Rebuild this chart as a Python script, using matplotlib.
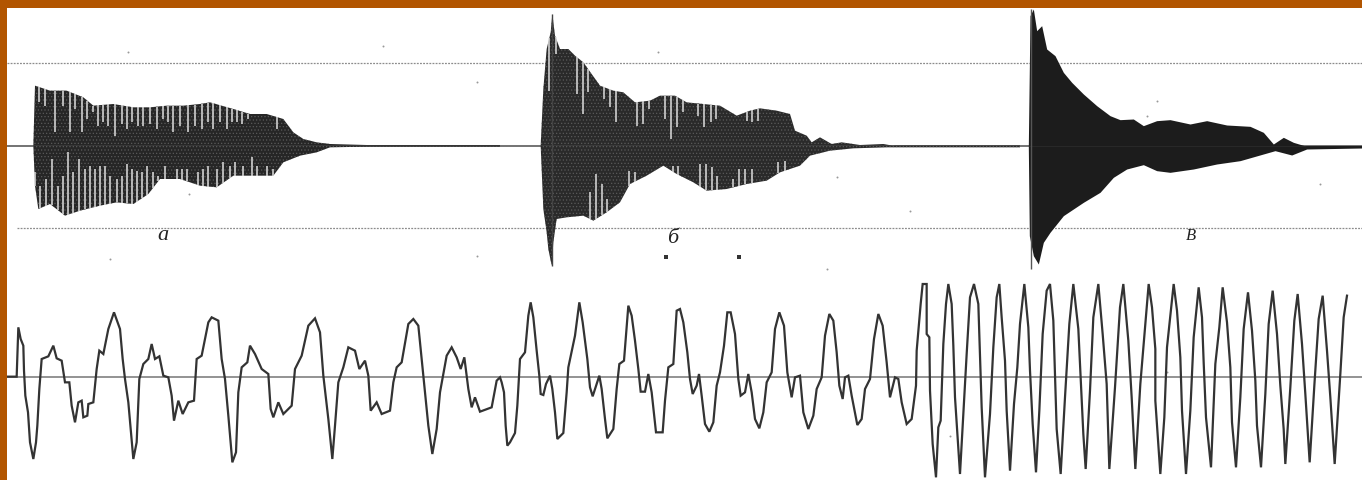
#!/usr/bin/env python3
# -*- coding: utf-8 -*-
import matplotlib
matplotlib.use('Agg')
import matplotlib.pyplot as plt
import numpy as np

# all readings are in thirds of a pixel
a_x = [100, 105, 150, 200, 250, 280, 340, 400, 450, 500, 550, 600, 630, 700, 750, 800, 850, 880, 910, 950, 990, 1100, 1500]
a_top = [440, 260, 275, 275, 295, 320, 315, 325, 325, 320, 320, 315, 310, 330, 345, 345, 360, 400, 420, 430, 435, 438, 438]
a_low_x = [100, 105, 115, 150, 195, 240, 300, 350, 400, 445, 480, 540, 600, 650, 700, 760, 820, 850, 900, 950, 990, 1100, 1500]
a_low = [440, 560, 630, 615, 650, 635, 620, 610, 615, 585, 540, 540, 560, 565, 530, 530, 530, 490, 470, 460, 445, 443, 443]
a_gap_up = [118, 135, 165, 190, 210, 225, 245, 262, 280, 295, 310, 325, 345, 365, 380, 395, 415, 430, 450, 470, 490, 505, 520, 540, 565, 585, 605, 625, 640, 660, 680, 695, 710, 725, 745, 830]
a_gap_up_to = [310, 320, 400, 320, 400, 330, 400, 360, 340, 380, 370, 380, 410, 375, 390, 370, 380, 380, 375, 390, 360, 370, 400, 380, 400, 380, 390, 370, 390, 370, 390, 370, 370, 375, 360, 390]
a_gap_dn = [105, 120, 138, 155, 175, 190, 205, 220, 238, 255, 270, 285, 300, 315, 330, 350, 365, 380, 395, 410, 425, 440, 460, 475, 495, 530, 545, 560, 595, 610, 625, 650, 670, 690, 705, 730, 755, 770, 800, 820]
a_gap_dn_to = [520, 560, 540, 480, 560, 530, 460, 520, 480, 510, 500, 510, 500, 500, 530, 540, 530, 495, 510, 515, 520, 500, 520, 530, 500, 510, 510, 510, 520, 510, 500, 510, 490, 500, 490, 500, 475, 500, 500, 510]

b_x = [62, 70, 80, 92, 97, 105, 120, 145, 165, 190, 215, 240, 280, 310, 345, 390, 420, 465, 500, 550, 600, 650, 690, 720, 770, 810, 825, 860, 875, 900, 935, 965, 1020, 1090, 1130, 1500]
b_top = [440, 270, 150, 100, 45, 110, 150, 150, 170, 190, 225, 260, 275, 280, 310, 305, 290, 290, 310, 315, 320, 350, 335, 328, 335, 345, 395, 410, 430, 415, 435, 430, 438, 435, 442, 442]
b_low_x = [62, 70, 80, 85, 95, 100, 110, 140, 190, 220, 260, 300, 330, 380, 430, 470, 520, 560, 620, 680, 740, 780, 840, 870, 930, 1000, 1100, 1500]
b_low = [440, 630, 700, 750, 800, 730, 660, 655, 650, 665, 640, 610, 555, 530, 500, 525, 550, 575, 570, 555, 545, 520, 500, 470, 455, 448, 445, 445]
b_gap_up = [88, 107, 170, 188, 205, 252, 270, 288, 352, 370, 388, 435, 453, 470, 488, 535, 552, 572, 588, 680, 697, 715]
b_gap_up_to = [275, 165, 285, 345, 280, 300, 325, 370, 380, 375, 330, 360, 420, 385, 340, 350, 385, 370, 360, 365, 370, 365]
b_gap_dn = [210, 228, 245, 262, 327, 345, 458, 475, 540, 558, 575, 592, 640, 658, 675, 695, 775, 795]
b_gap_dn_to = [580, 525, 555, 600, 515, 520, 500, 500, 495, 495, 505, 530, 540, 510, 510, 510, 490, 485]

c_x = [85, 90, 100, 110, 125, 140, 165, 190, 215, 250, 290, 330, 360, 400, 430, 470, 510, 570, 620, 680, 750, 790, 820, 850, 880, 920, 1086]
c_top = [440, 50, 30, 95, 80, 150, 170, 220, 250, 285, 320, 350, 362, 360, 380, 365, 362, 375, 365, 378, 382, 400, 435, 415, 430, 442, 443]
c_low_x = [85, 88, 100, 115, 130, 150, 190, 250, 300, 340, 380, 430, 470, 510, 580, 650, 720, 790, 825, 875, 920, 1086]
c_low = [445, 710, 770, 795, 730, 700, 650, 610, 580, 535, 510, 497, 515, 520, 510, 495, 485, 465, 455, 468, 450, 447]

# lower trace, three crops of the same line
wave1_x = [22, 50, 55, 62, 70, 72, 76, 84, 90, 100, 108, 112, 118, 125, 145, 160, 170, 185, 195, 208, 215, 225, 235, 245, 250, 262, 265, 280, 290, 298, 310, 325, 342, 360, 368, 375, 385, 392, 400, 410, 418, 430, 445, 455, 465, 478, 490, 505, 515, 522, 535, 548, 565, 582, 590, 605, 625, 635, 655, 665, 675, 685, 697, 708, 715, 725, 742, 750, 765, 785, 805, 812, 820, 835, 850, 875, 885, 905, 925, 945, 960, 970, 985, 997, 1005, 1015, 1030, 1045, 1065, 1078, 1095, 1105, 1112, 1130, 1145, 1170, 1180, 1190, 1205, 1225, 1240, 1255, 1270, 1285, 1297, 1310, 1320, 1340, 1355, 1370, 1382, 1393, 1405, 1415, 1425, 1440, 1475, 1490]
wave1_y = [293, 293, 145, 180, 200, 275, 350, 400, 490, 540, 490, 440, 330, 240, 232, 200, 238, 245, 310, 310, 380, 430, 370, 365, 415, 410, 375, 370, 270, 215, 225, 150, 100, 150, 240, 300, 370, 450, 540, 490, 300, 255, 240, 195, 240, 232, 290, 295, 350, 425, 365, 405, 370, 365, 240, 230, 130, 115, 125, 240, 300, 410, 550, 520, 340, 265, 250, 200, 225, 270, 285, 390, 415, 370, 405, 380, 270, 230, 140, 118, 160, 290, 420, 540, 440, 310, 265, 205, 215, 270, 245, 290, 395, 370, 405, 395, 310, 265, 250, 135, 120, 140, 290, 440, 525, 450, 340, 230, 205, 235, 270, 235, 330, 385, 355, 398, 385, 305]
wave2_x = [0, 5, 12, 17, 22, 30, 45, 52, 60, 75, 85, 92, 100, 110, 118, 122, 130, 138, 150, 157, 165, 172, 190, 200, 205, 225, 238, 248, 262, 270, 278, 290, 298, 305, 315, 322, 340, 350, 358, 372, 385, 395, 405, 415, 422, 435, 445, 455, 468, 488, 495, 505, 520, 530, 540, 550, 562, 570, 578, 590, 597, 605, 615, 628, 640, 650, 660, 672, 682, 692, 705, 715, 722, 735, 745, 755, 765, 778, 790, 800, 815, 825, 838, 852, 862, 875, 885, 900, 910, 925, 940, 950, 965, 975, 988, 1000, 1010, 1018, 1028, 1035, 1045, 1055, 1072, 1085, 1095, 1110, 1122, 1135, 1148, 1160, 1170, 1185, 1195, 1205, 1220, 1235, 1248]
wave2_y = [295, 310, 340, 440, 500, 490, 462, 380, 240, 220, 110, 70, 115, 215, 290, 345, 348, 315, 290, 330, 400, 480, 462, 340, 265, 170, 70, 130, 240, 325, 352, 315, 290, 330, 420, 478, 450, 330, 255, 245, 80, 110, 185, 270, 338, 338, 285, 340, 460, 460, 365, 265, 255, 95, 90, 130, 220, 300, 345, 320, 285, 350, 435, 458, 430, 320, 280, 200, 100, 100, 165, 300, 350, 340, 285, 340, 420, 448, 400, 310, 280, 150, 100, 140, 280, 355, 295, 290, 400, 450, 410, 330, 295, 170, 105, 125, 220, 320, 360, 295, 290, 350, 438, 420, 330, 300, 180, 105, 140, 250, 355, 295, 300, 370, 435, 420, 320]
wave3_x = [20, 32, 38, 50, 50, 58, 60, 68, 78, 85, 92, 100, 108, 115, 125, 130, 135, 150, 160, 170, 180, 192, 205, 210, 215, 225, 240, 250, 260, 268, 275, 285, 290, 300, 312, 322, 330, 343, 355, 360, 368, 378, 388, 398, 410, 420, 430, 435, 440, 452, 465, 478, 490, 505, 512, 520, 527, 540, 550, 565, 578, 590, 598, 615, 630, 640, 655, 665]
wave3_y = [215, 75, 15, 15, 165, 175, 335, 495, 595, 445, 425, 195, 75, 15, 75, 200, 355, 585, 405, 225, 55, 15, 75, 235, 385, 595, 405, 205, 55, 15, 115, 245, 395, 575, 375, 265, 135, 15, 145, 275, 435, 580, 395, 165, 35, 15, 125, 285, 450, 585, 355, 135, 15, 150, 295, 465, 570, 335, 115, 15, 165, 315, 570, 325, 85, 15, 185, 355]
wave4_x = [10, 25, 35, 50, 60, 70, 70, 85, 97, 105, 125, 135, 145, 150, 162, 175, 185, 200, 210, 215, 222, 237, 250, 262, 272, 285, 295, 300, 312, 325, 335, 348, 360, 370, 375, 387, 400, 410, 422, 435, 445, 455, 460, 475, 487, 497, 510, 520, 533, 547, 560, 572, 585, 595, 608, 625, 635, 645]
wave4_y = [570, 315, 195, 15, 85, 210, 365, 585, 415, 205, 15, 95, 235, 395, 585, 395, 175, 25, 115, 250, 415, 565, 255, 145, 25, 130, 265, 430, 565, 355, 150, 40, 155, 305, 440, 565, 345, 135, 35, 165, 320, 450, 555, 325, 125, 45, 195, 345, 550, 320, 120, 50, 215, 355, 555, 285, 115, 50]

speck_x = [1150, 384, 1432, 330, 568, 1430, 1975, 2510, 2730, 2215, 2480, 3440, 3470, 3960, 2850, 3500]
speck_y = [140, 160, 250, 780, 585, 770, 160, 535, 635, 775, 810, 350, 305, 555, 1310, 1120]

BOTTOM = 840
LEVEL = 440

plt.rcParams['hatch.linewidth'] = 0.5


def drawBurst(ax, x0, xs, top, low_x, low, color, hatch):
    ax.fill_between(np.array(xs) + x0, top, LEVEL, facecolor=color, edgecolor='#5a5a5a', hatch=hatch, lw=0)
    ax.fill_between(np.array(low_x) + x0, LEVEL, low, facecolor=color, edgecolor='#5a5a5a', hatch=hatch, lw=0)


def drawGaps(ax, x0, env_x, env, gap_x, gap_to):
    # white gaps between pulses, cut from the envelope inward
    edge = np.interp(gap_x, env_x, env)
    ax.vlines(np.array(gap_x) + x0, edge, gap_to, color='#dedede', lw=1.1, zorder=3)


fig = plt.figure(figsize=(13.62, 4.81), dpi=100, facecolor='#b25500')
ax = fig.add_axes([7 / 1362, 0, 1355 / 1362, 472 / 481], facecolor='white')
ax.set_xlim(21, 4086)
ax.set_ylim(1443, 27)
ax.set_xticks([])
ax.set_yticks([])
for s in ax.spines.values():
    s.set_visible(False)

# reference levels of the upper row
ax.hlines(193, 21, 4086, color='#8c8c8c', lw=0.9, ls=(0, (1.5, 1)), zorder=1)
ax.hlines(687, 50, 4086, color='#8c8c8c', lw=0.9, ls=(0, (1.5, 1)), zorder=1)
ax.hlines(LEVEL, 21, 4086, color='#4d4d4d', lw=1.1, zorder=1)

drawBurst(ax, 0, a_x, a_top, a_low_x, a_low, '#262626', '.....')
drawGaps(ax, 0, a_x, a_top, a_gap_up, a_gap_up_to)
drawGaps(ax, 0, a_low_x, a_low, a_gap_dn, a_gap_dn_to)

drawBurst(ax, 1560, b_x, b_top, b_low_x, b_low, '#2a2a2a', '.....')
drawGaps(ax, 1560, b_x, b_top, b_gap_up, b_gap_up_to)
drawGaps(ax, 1560, b_low_x, b_low, b_gap_dn, b_gap_dn_to)

drawBurst(ax, 3000, c_x, c_top, c_low_x, c_low, '#1c1c1c', None)
ax.vlines(3093, 30, 810, color='#555555', lw=1.0, zorder=2)
ax.vlines(1656, 45, 800, color='#444444', lw=1.0, zorder=2)

for x, lab, y, size in [(490, 'а', 706, 16), (2018, 'б', 716, 16), (3572, 'В', 708, 12)]:
    ax.text(x, y, lab, family='Liberation Serif', style='italic', fontsize=size,
            color='#222222', ha='center', va='center')

ax.scatter(speck_x, speck_y, s=2, color='#999999', lw=0, zorder=1)
ax.scatter([1998, 2218], [774, 774], s=5, color='#333333', lw=0, marker='s', zorder=1)

# lower trace
ax.hlines(BOTTOM + 293, 21, 4086, color='#808080', lw=1.2, zorder=1)
wave_x = np.concatenate([wave1_x, np.array(wave2_x) + 1500, np.array(wave3_x) + 2730, np.array(wave4_x) + 3396])
wave_y = np.concatenate([wave1_y, wave2_y, wave3_y, wave4_y]) + BOTTOM
ax.plot(wave_x, wave_y, color='#333333', lw=1.6, solid_joinstyle='miter', zorder=2)

fig.savefig('out.png', dpi=100, facecolor=fig.get_facecolor())
